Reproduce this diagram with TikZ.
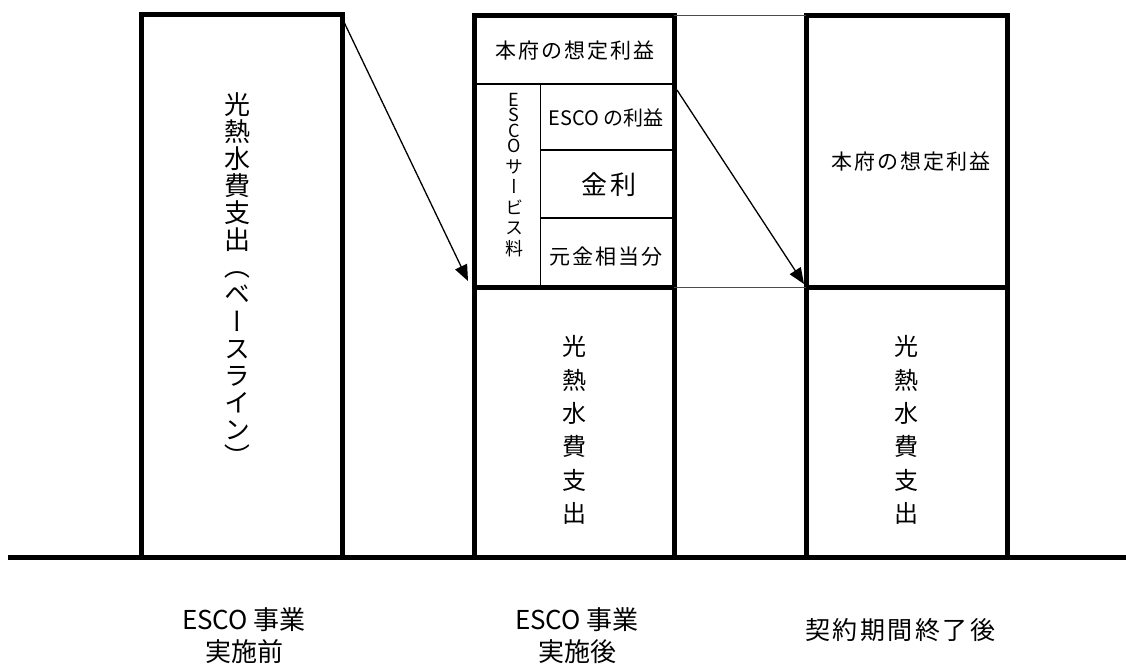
\documentclass[tikz,border=0pt]{standalone}
\usepackage{fontspec}
\usepackage{graphicx}
\usetikzlibrary{arrows.meta}
\newfontfamily\jpfont{Noto Sans CJK JP}
\newfontfamily\jpsfont[LetterSpace=10]{Noto Sans CJK JP}
\newfontfamily\jpvfont[RawFeature=+vert]{Noto Sans CJK JP}
\newcommand{\tatekakko}[1]{\rotatebox[origin=c]{-90}{\jpfont #1}}
\newlength{\du}
\setlength{\du}{1pt}
\tikzset{
  waku/.style={line width=5\du},
  naka/.style={line width=2.5\du},
  hoso/.style={line width=1\du},
  yajirushi/.style={line width=1.3\du,-{Triangle[length=16pt,width=13pt]}},
  moji/.style={inner sep=0pt,align=center},
}
\begin{document}
\begin{tikzpicture}
\pgftransformxscale{1.000000}
\pgftransformyscale{-1.000000}
\useasboundingbox (0\du,0\du) rectangle (1126\du,666\du);

% waku
\draw[waku] (141\du,557\du)--(141\du,15\du)--(342\du,15\du)--(342\du,557\du);
\draw[waku] (474\du,557\du)--(474\du,16\du)--(674\du,16\du)--(674\du,557\du);
\draw[waku] (806\du,557\du)--(806\du,16\du)--(1007\du,16\du)--(1007\du,557\du);
\draw[waku] (474\du,287\du)--(674\du,287\du);
\draw[waku] (806\du,287\du)--(1007\du,287\du);
\draw[naka] (474\du,84\du)--(674\du,84\du);
\draw[naka] (540\du,150\du)--(674\du,150\du);
\draw[naka] (540\du,218\du)--(674\du,218\du);
\draw[hoso] (540\du,84\du)--(540\du,287\du);
\draw[hoso,black!70] (674\du,16\du)--(806\du,16\du);
\draw[hoso,black!70] (674\du,287\du)--(806\du,287\du);
\draw[waku] (8\du,557\du)--(1126\du,557\du);

% moji
\node[moji,font=\jpvfont\fontsize{26}{27.1}\selectfont] (base1) at (237\du,281\du)
  {光\\熱\\水\\費\\支\\出\\\tatekakko{（}\\ベ\\ー\\ス\\ラ\\イ\\ン\\\tatekakko{）}};
\node[moji,font=\jpsfont\fontsize{21}{24}\selectfont] (rieki2) at (575\du,51\du) {本府の想定利益};
\node[moji,font=\jpvfont\fontsize{18}{20.5}\selectfont] (escoFee) at (514\du,175\du)
  {E\\[-5pt]S\\[-5pt]C\\[-5pt]O\\サ\\ー\\ビ\\ス\\料};
\node[moji,font=\jpfont\fontsize{20}{22}\selectfont] (escoRieki) at (606\du,118\du) {ESCO の利益};
\node[moji,font=\jpsfont\fontsize{26}{30}\selectfont] (kinri) at (609\du,185\du) {金利};
\node[moji,font=\jpsfont\fontsize{21}{24}\selectfont] (gankin) at (606\du,257\du) {元金相当分};
\node[moji,font=\jpvfont\fontsize{24}{33.3}\selectfont] (kounetsu2) at (574\du,430\du)
  {光\\熱\\水\\費\\支\\出};
\node[moji,font=\jpsfont\fontsize{21}{24}\selectfont] (rieki3) at (911\du,162\du) {本府の想定利益};
\node[moji,font=\jpvfont\fontsize{24}{33.3}\selectfont] (kounetsu3) at (906\du,430\du)
  {光\\熱\\水\\費\\支\\出};
\node[moji,font=\jpfont\fontsize{26}{32}\selectfont] (mae) at (244\du,636\du) {ESCO 事業\\実施前};
\node[moji,font=\jpfont\fontsize{26}{32}\selectfont] (ato) at (577\du,636\du) {ESCO 事業\\実施後};
\node[moji,font=\jpsfont\fontsize{25}{32}\selectfont] (shuryo) at (900\du,630\du) {契約期間終了後};

% yajirushi
\coordinate (a1s) at (343\du,20\du);
\coordinate (a1e) at (468\du,281\du);
\coordinate (a2s) at (677\du,90\du);
\coordinate (a2e) at (804\du,284\du);
\draw[yajirushi] (a1s)--(a1e);
\draw[yajirushi] (a2s)--(a2e);
\end{tikzpicture}
\end{document}
